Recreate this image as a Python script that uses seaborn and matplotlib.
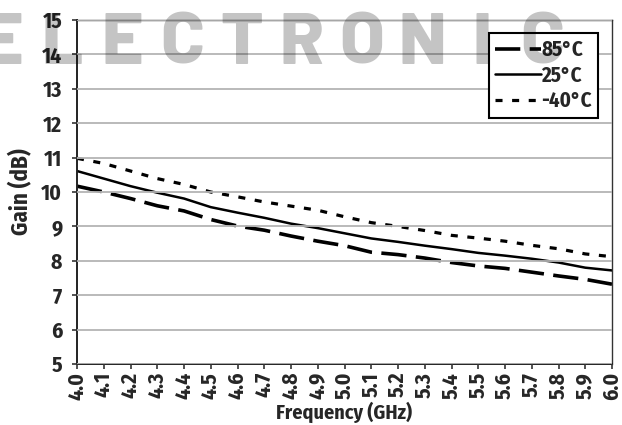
import matplotlib
matplotlib.use("Agg")
import matplotlib.pyplot as plt
import seaborn as sns
import pandas as pd

# Gain vs. frequency at three temperatures
freq_ghz = [4.0, 4.1, 4.2, 4.3, 4.4, 4.5, 4.6, 4.7, 4.8, 4.9, 5.0,
            5.1, 5.2, 5.3, 5.4, 5.5, 5.6, 5.7, 5.8, 5.9, 6.0]
gain_85c = [10.17, 10.00, 9.81, 9.60, 9.45, 9.20, 9.01, 8.89, 8.72, 8.57, 8.44,
            8.25, 8.18, 8.08, 7.95, 7.85, 7.78, 7.67, 7.56, 7.46, 7.32]
gain_25c = [10.61, 10.39, 10.17, 9.98, 9.81, 9.56, 9.40, 9.25, 9.08, 8.95, 8.80,
            8.65, 8.55, 8.44, 8.34, 8.23, 8.15, 8.06, 7.95, 7.80, 7.72]
gain_m40c = [10.98, 10.83, 10.61, 10.39, 10.22, 10.00, 9.86, 9.71, 9.59, 9.47, 9.28,
             9.11, 9.00, 8.88, 8.74, 8.66, 8.57, 8.45, 8.35, 8.20, 8.12]
series_labels = ["85°C", "25°C", "-40°C"]
x_ticks = [4.0, 4.1, 4.2, 4.3, 4.4, 4.5, 4.6, 4.7, 4.8, 4.9, 5.0,
           5.1, 5.2, 5.3, 5.4, 5.5, 5.6, 5.7, 5.8, 5.9, 6.0]
y_ticks = [5, 6, 7, 8, 9, 10, 11, 12, 13, 14, 15]
watermark = "ELECTRONIC"

sns.set_style("white")
plt.rcParams["font.family"] = ["Fira Sans Condensed", "DejaVu Sans"]
plt.rcParams["font.weight"] = "bold"

fig = plt.figure(figsize=(6.22, 4.25), dpi=100)
fig.patch.set_facecolor("white")

ax = fig.add_axes([77 / 622, 61 / 425, 535 / 622, 344 / 425])
ax.set_facecolor("none")

styles = [
    dict(lw=2.6, linestyle=(0, (7, 2.6))),
    dict(lw=1.8, linestyle="-"),
    dict(lw=2.3, linestyle=(0, (2.2, 3.0))),
]
for vals, lab, st in zip([gain_85c, gain_25c, gain_m40c], series_labels, styles):
    df = pd.DataFrame({"Frequency": freq_ghz, "Gain": vals})
    sns.lineplot(data=df, x="Frequency", y="Gain", ax=ax, color="black",
                 label=lab, **st)

ax.set_xlim(4.0, 6.0)
ax.set_ylim(5, 15)
ax.set_xticks(x_ticks)
ax.set_xticklabels([f"{t:.1f}" for t in x_ticks], rotation=90, fontsize=15.5,
                   fontweight="bold")
ax.set_yticks(y_ticks)
ax.set_yticklabels([str(t) for t in y_ticks], fontsize=15.5, fontweight="bold")
ax.yaxis.grid(True, color="#b4b4b4", lw=1.3)
ax.xaxis.grid(False)
ax.set_axisbelow(False)
ax.tick_params(axis="both", which="major", direction="out", length=3.6,
               width=1.2, color="#333333", bottom=True, left=True)
ax.tick_params(axis="x", pad=2)
ax.tick_params(axis="y", pad=7)

for side in ["left", "bottom"]:
    ax.spines[side].set_color("#222222")
    ax.spines[side].set_linewidth(1.4)
for side in ["top", "right"]:
    ax.spines[side].set_color("#333333")
    ax.spines[side].set_linewidth(1.0)

ax.set_xlabel("Frequency (GHz)", fontsize=14.5, fontweight="bold", labelpad=1)
ax.set_ylabel("Gain (dB)", fontsize=16.5, fontweight="bold", labelpad=6)

leg = ax.legend(loc="upper right", bbox_to_anchor=(0.974, 0.962),
                borderaxespad=0, frameon=True, fancybox=False,
                handlelength=2.2, handletextpad=0.0, borderpad=0.3,
                labelspacing=0.2, prop={"weight": "bold", "size": 15})
leg.get_frame().set_edgecolor("black")
leg.get_frame().set_linewidth(1.5)
leg.get_frame().set_alpha(1)

# Translucent watermark letters laid over the whole figure
for i, ch in enumerate(watermark):
    fig.text((2 + i * 60) / 622, 1 - 45 / 425, ch, ha="center", va="center",
             fontsize=52, fontweight=800, color="black", alpha=0.23,
             family=["Barlow", "DejaVu Sans"], zorder=20)

fig.savefig("out.png", dpi=100)
